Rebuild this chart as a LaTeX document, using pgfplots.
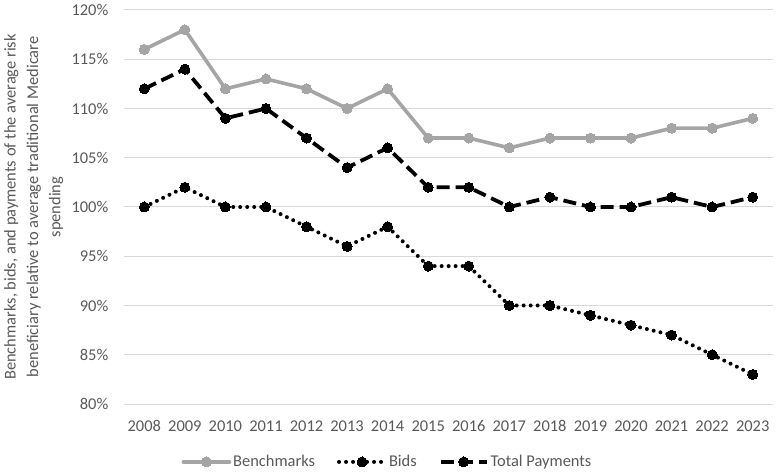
\documentclass[border=0pt]{standalone}
\usepackage{fontspec}
\setmainfont{Carlito}
\usepackage{pgfplots}
\pgfplotsset{compat=1.18}
\definecolor{txtgray}{HTML}{595959}
\definecolor{gridgray}{HTML}{D9D9D9}
\definecolor{benchgray}{HTML}{A5A5A5}
\begin{document}
\fontsize{16.5}{20}\selectfont
\begin{tikzpicture}
\path[use as bounding box] (0,0) rectangle (778bp,474bp);
\begin{axis}[
    at={(124bp,70bp)}, anchor=south west,
    scale only axis,
    width=649bp, height=394bp,
    xmin=2007.5, xmax=2023.5,
    ymin=80, ymax=120,
    xtick={2008,...,2023},
    xticklabels={2008,2009,2010,2011,2012,2013,2014,2015,2016,2017,2018,2019,2020,2021,2022,2023},
    ytick={80,85,...,120},
    yticklabels={80\%,85\%,90\%,95\%,100\%,105\%,110\%,115\%,120\%},
    ymajorgrids,
    grid style={gridgray, line width=1bp},
    axis line style={draw=none},
    major tick length=0pt,
    tick label style={font=\fontsize{16.5}{20}\selectfont, text=txtgray},
    xticklabel style={yshift=-11bp},
    yticklabel style={xshift=-10bp},
    ylabel={Benchmarks, bids, and payments of the average risk\\beneficiary relative to average traditional Medicare\\spending},
    ylabel style={at={(axis description cs:-0.139,0.5)}, anchor=center, align=center,
        font=\fontsize{16.5}{22.5}\selectfont, text=txtgray},
    legend style={at={(axis description cs:0.406,-0.147)}, anchor=center,
        draw=none, fill=none, legend columns=-1,
        font=\fontsize{16.5}{20}\selectfont, text=txtgray,
        /tikz/every even column/.append style={column sep=20bp}},
    legend image code/.code={
        \draw[#1, mark repeat=2, mark phase=2] plot coordinates {(0bp,0bp) (23bp,0bp) (46bp,0bp)};
    },
]
\addplot[benchgray, line width=3.6bp, line cap=round, line join=round,
    mark=*, mark size=5bp, mark options={solid, fill=benchgray, draw=benchgray, line width=0pt}]
coordinates {(2008,116) (2009,118) (2010,112) (2011,113) (2012,112) (2013,110) (2014,112) (2015,107)
    (2016,107) (2017,106) (2018,107) (2019,107) (2020,107) (2021,108) (2022,108) (2023,109)};
\addlegendentry{Benchmarks}
\addplot[black, line width=4bp, line cap=round, dash pattern=on 0bp off 7bp,
    mark=*, mark size=5bp, mark options={solid, fill=black, line width=0pt}]
coordinates {(2008,100) (2009,102) (2010,100) (2011,100) (2012,98) (2013,96) (2014,98) (2015,94)
    (2016,94) (2017,90) (2018,90) (2019,89) (2020,88) (2021,87) (2022,85) (2023,83)};
\addlegendentry{Bids}
\addplot[black, line width=3.8bp, dash pattern=on 13bp off 6bp,
    mark=*, mark size=5bp, mark options={solid, fill=black, line width=0pt}]
coordinates {(2008,112) (2009,114) (2010,109) (2011,110) (2012,107) (2013,104) (2014,106) (2015,102)
    (2016,102) (2017,100) (2018,101) (2019,100) (2020,100) (2021,101) (2022,100) (2023,101)};
\addlegendentry{Total Payments}
\end{axis}
\end{tikzpicture}
\end{document}
